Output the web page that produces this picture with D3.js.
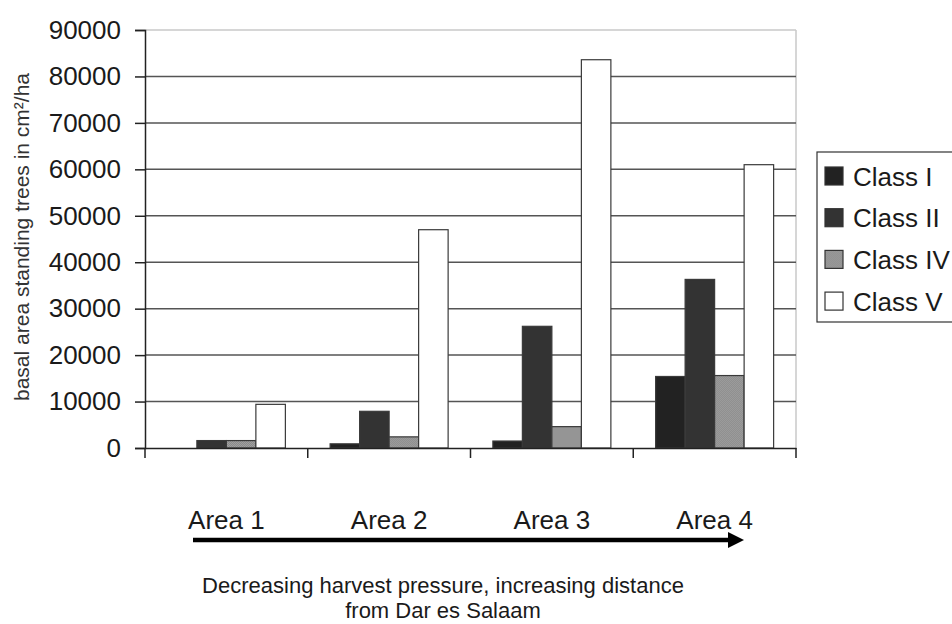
<!DOCTYPE html>
<html><head><meta charset="utf-8">
<script src="https://cdn.jsdelivr.net/npm/d3@7"></script>
<style>
html,body{margin:0;padding:0;background:#fff;}
svg text{font-family:"Liberation Sans",Arial,sans-serif;fill:#1a1a1a;}
</style></head>
<body>
<svg id="chart" width="952" height="624"></svg>
<script>
const categories = ["Area 1", "Area 2", "Area 3", "Area 4"];
const seriesNames = ["Class I", "Class II", "Class IV", "Class V"];
const classI   = [0, 900, 1500, 15400];
const classII  = [1600, 7900, 26200, 36300];
const classIV  = [1600, 2400, 4600, 15600];
const classV   = [9400, 47000, 83600, 61000];
const yTicks = [0, 10000, 20000, 30000, 40000, 50000, 60000, 70000, 80000, 90000];
const yLabel = "basal area standing trees in cm²/ha";
const captionLines = ["Decreasing harvest pressure, increasing distance", "from Dar es Salaam"];

const seriesValues = [classI, classII, classIV, classV];
const fills = ["#222222", "#333333", "url(#dither)", "#ffffff"];

const svg = d3.select("#chart");
const defs = svg.append("defs");
const pat = defs.append("pattern").attr("id","dither").attr("width",2).attr("height",2).attr("patternUnits","userSpaceOnUse");
pat.append("rect").attr("width",2).attr("height",2).attr("fill","#a0a0a0");
pat.append("rect").attr("width",1).attr("height",1).attr("fill","#8a8a8a");
pat.append("rect").attr("x",1).attr("y",1).attr("width",1).attr("height",1).attr("fill","#8a8a8a");

const pLeft = 145, pRight = 796, pTop = 30, pBottom = 448;
const x = d3.scaleBand().domain(categories).range([pLeft, pRight]).padding(0);
const groupW = 118;
const xi = d3.scaleBand().domain(seriesNames)
  .range([(x.bandwidth() - groupW) / 2, (x.bandwidth() + groupW) / 2]).padding(0);
const y = d3.scaleLinear().domain([0, 90000]).range([pBottom, pTop]);

// plot border (light)
svg.append("line").attr("x1", pLeft).attr("x2", pRight).attr("y1", y(90000)).attr("y2", y(90000))
  .attr("stroke", "#c8c8c8").attr("stroke-width", 1.5);
svg.append("line").attr("x1", pRight).attr("x2", pRight).attr("y1", y(90000)).attr("y2", pBottom)
  .attr("stroke", "#c8c8c8").attr("stroke-width", 1.5);

// gridlines
svg.append("g").selectAll("line").data(yTicks.filter(t => t > 0 && t < 90000)).join("line")
  .attr("x1", pLeft).attr("x2", pRight)
  .attr("y1", d => y(d)).attr("y2", d => y(d))
  .attr("stroke", "#555").attr("stroke-width", 1.5);

// bars
const groups = svg.append("g").selectAll("g").data(categories).join("g")
  .attr("transform", d => `translate(${x(d)},0)`);
groups.selectAll("rect").data((c, ci) => seriesNames.map((s, si) => ({s, si, v: seriesValues[si][ci]})).filter(d => d.v > 0))
  .join("rect")
  .attr("x", d => xi(d.s)).attr("width", xi.bandwidth())
  .attr("y", d => y(d.v)).attr("height", d => y(0) - y(d.v))
  .attr("fill", d => fills[d.si])
  .attr("stroke", "#3a3a3a").attr("stroke-width", 1.2);

// y axis
const yAxis = svg.append("g").attr("transform", `translate(${pLeft},0)`)
  .call(d3.axisLeft(y).tickValues(yTicks).tickFormat(d3.format("d")).tickSize(10).tickPadding(14));
yAxis.select(".domain").attr("stroke", "#222").attr("stroke-width", 1.5);
yAxis.selectAll(".tick line").attr("stroke", "#222").attr("stroke-width", 1.5);
yAxis.selectAll(".tick text").style("font-size", "26px").attr("fill", "#1a1a1a")
  .style("font-family", '"Liberation Sans",Arial,sans-serif');

// x axis
const xAxis = svg.append("g").attr("transform", `translate(0,${pBottom})`)
  .call(d3.axisBottom(x).tickSize(0).tickPadding(0));
xAxis.select(".domain").attr("stroke", "#222").attr("stroke-width", 1.5);
xAxis.selectAll(".tick text").remove();
xAxis.selectAll(".tick line").remove();
svg.append("g").selectAll("line").data(categories.concat(["end"])).join("line")
  .attr("x1", (d, i) => i < categories.length ? x(d) : pRight)
  .attr("x2", (d, i) => i < categories.length ? x(d) : pRight)
  .attr("y1", pBottom).attr("y2", pBottom + 10)
  .attr("stroke", "#222").attr("stroke-width", 1.5);
svg.append("g").selectAll("text").data(categories).join("text")
  .attr("x", d => x(d) + x.bandwidth() / 2).attr("y", 529)
  .attr("text-anchor", "middle").style("font-size", "26px").text(d => d);

// y label
svg.append("text").attr("transform", "translate(29,237) rotate(-90)")
  .attr("text-anchor", "middle").style("font-size", "21px").style("fill", "#333").text(yLabel);

// legend
const lg = svg.append("g");
lg.append("rect").attr("x", 817).attr("y", 152).attr("width", 150).attr("height", 170)
  .attr("fill", "#fff").attr("stroke", "#333").attr("stroke-width", 1.2);
const rows = lg.selectAll("g").data(seriesNames).join("g")
  .attr("transform", (d, i) => `translate(825,${176 + i * 41.7})`);
rows.append("rect").attr("x", 0).attr("y", -9).attr("width", 18).attr("height", 18)
  .attr("fill", (d, i) => fills[i]).attr("stroke", "#333").attr("stroke-width", 1.2);
rows.append("text").attr("x", 28).attr("y", 9.5).style("font-size", "26px").text(d => d);

// arrow
svg.append("line").attr("x1", 193).attr("x2", 730).attr("y1", 540).attr("y2", 540)
  .attr("stroke", "#000").attr("stroke-width", 4.5);
svg.append("path").attr("d", "M728,532 L744,540 L728,548 Z").attr("fill", "#000");

// caption
svg.append("g").selectAll("text").data(captionLines).join("text")
  .attr("x", 443).attr("y", (d, i) => 593 + i * 25)
  .attr("text-anchor", "middle").style("font-size", "22px").text(d => d);
</script>
</body></html>
